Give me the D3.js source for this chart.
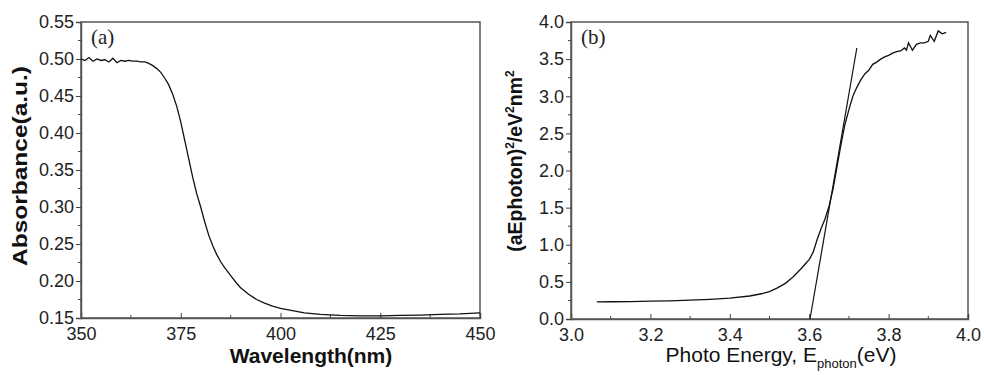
<!DOCTYPE html>
<html>
<head>
<meta charset="utf-8">
<script src="https://cdn.jsdelivr.net/npm/d3@7"></script>
<style>
  body { margin: 0; background: #fff; }
</style>
</head>
<body>
<svg id="chart" width="984" height="375"></svg>
<script>
/* ---------- data: panel (a) absorbance ---------- */
const wavelength = [350,351,352,353,354,355,356,357,358,359,360,361,362,363,364,365,366,367,368,369,
  370,371,372,373,374,375,376,377,378,379,380,381,382,383,384,385,386,387,388,389,390,392,394,396,398,
  400,403,406,410,415,420,425,430,435,440,445,450];
const absorbance = [0.500,0.498,0.502,0.497,0.500,0.498,0.499,0.496,0.501,0.495,0.498,0.497,0.498,0.497,
  0.497,0.496,0.496,0.494,0.491,0.487,0.482,0.474,0.465,0.452,0.436,0.415,0.390,0.365,0.340,0.318,0.300,
  0.280,0.262,0.248,0.236,0.226,0.218,0.211,0.204,0.197,0.191,0.182,0.175,0.170,0.166,0.163,0.160,0.157,
  0.155,0.1535,0.153,0.153,0.1535,0.154,0.155,0.1555,0.157];

/* ---------- data: panel (b) Tauc plot ---------- */
const energy = [3.065,3.10,3.15,3.20,3.25,3.30,3.35,3.40,3.45,3.48,3.50,3.52,3.54,3.56,3.58,3.59,3.60,3.61,
  3.62,3.63,3.64,3.65,3.66,3.67,3.68,3.69,3.70,3.71,3.72,3.73,3.74,3.75,3.76,3.77,3.78,3.79,3.80,3.81,3.82,
  3.83,3.84,3.845,3.85,3.86,3.87,3.88,3.89,3.90,3.905,3.915,3.925,3.935,3.945];
const tauc = [0.23,0.232,0.235,0.24,0.245,0.255,0.265,0.28,0.31,0.34,0.37,0.42,0.48,0.57,0.68,0.74,0.80,0.90,
  1.07,1.22,1.35,1.52,1.75,2.05,2.35,2.62,2.82,3.00,3.12,3.22,3.30,3.35,3.43,3.46,3.50,3.53,3.55,3.58,3.60,
  3.61,3.65,3.62,3.72,3.62,3.70,3.72,3.72,3.74,3.82,3.74,3.88,3.84,3.86];
const fitE = [3.602, 3.72];
const fitV = [0, 3.65];

const ticksA_x = [350,375,400,425,450];
const ticksA_y = [0.15,0.20,0.25,0.30,0.35,0.40,0.45,0.50,0.55];
const ticksB_x = [3.0,3.2,3.4,3.6,3.8,4.0];
const ticksB_y = [0,0.5,1,1.5,2,2.5,3,3.5,4];

const SANS = "'Liberation Sans', Arial, sans-serif";
const SERIF = "'Liberation Serif', 'Times New Roman', serif";
const svg = d3.select("#chart");

function panel(o){
  const g = svg.append("g");
  const x = d3.scaleLinear().domain(o.xDom).range([o.x0, o.x1]);
  const y = d3.scaleLinear().domain(o.yDom).range([o.y1, o.y0]);

  // frame
  g.append("rect").attr("x",o.x0).attr("y",o.y0)
    .attr("width",o.x1-o.x0).attr("height",o.y1-o.y0)
    .attr("fill","none").attr("stroke","#555").attr("stroke-width",1.5);

  // minor ticks
  o.xMinor.forEach(v => g.append("line").attr("x1",x(v)).attr("x2",x(v))
      .attr("y1",o.y1).attr("y2",o.y1-3).attr("stroke","#444"));
  o.yMinor.forEach(v => g.append("line").attr("y1",y(v)).attr("y2",y(v))
      .attr("x1",o.x0).attr("x2",o.x0-3).attr("stroke","#444"));

  const ax = g.append("g").attr("transform",`translate(0,${o.y1})`)
    .call(d3.axisBottom(x).tickValues(o.xTicks).tickSize(-5).tickPadding(9).tickFormat(o.xFmt));
  const ay = g.append("g").attr("transform",`translate(${o.x0},0)`)
    .call(d3.axisLeft(y).tickValues(o.yTicks).tickSize(5).tickPadding(2).tickFormat(o.yFmt));
  [ax, ay].forEach(a => {
    a.select(".domain").attr("stroke","#555").attr("stroke-width",1.5);
    a.selectAll(".tick line").attr("stroke","#444");
    a.selectAll("text").attr("font-size",18).attr("fill","#222").attr("font-family",SANS);
  });

  const line = d3.line().x(d => x(d[0])).y(d => y(d[1]));
  g.append("path").datum(d3.zip(o.xs, o.ys)).attr("d",line)
    .attr("fill","none").attr("stroke","#111").attr("stroke-width",1.3);
  if (o.fx) g.append("path").datum(d3.zip(o.fx, o.fy)).attr("d",line)
    .attr("fill","none").attr("stroke","#111").attr("stroke-width",1.2);

  g.append("text").attr("x",o.x0+10).attr("y",o.y0+22)
    .attr("font-family",SERIF).attr("fill","#222")
    .attr("font-size",21).text(o.tag);
  return {x, y, g};
}

panel({
  x0:81, x1:480, y0:22, y1:318,
  xDom:[350,450], yDom:[0.15,0.55],
  xTicks:ticksA_x, yTicks:ticksA_y,
  xMinor:[362.5,387.5,412.5,437.5],
  yMinor:[0.175,0.225,0.275,0.325,0.375,0.425,0.475,0.525],
  xFmt:d3.format("d"), yFmt:d3.format(".2f"),
  xs:wavelength, ys:absorbance, tag:"(a)"
});
panel({
  x0:571, x1:968, y0:22, y1:319,
  xDom:[3.0,4.0], yDom:[0,4],
  xTicks:ticksB_x, yTicks:ticksB_y,
  xMinor:[3.1,3.3,3.5,3.7,3.9],
  yMinor:[0.25,0.75,1.25,1.75,2.25,2.75,3.25,3.75],
  xFmt:d3.format(".1f"), yFmt:d3.format(".1f"),
  xs:energy, ys:tauc, fx:fitE, fy:fitV, tag:"(b)"
});

/* axis titles */
const title = () => svg.append("text").attr("font-family",SANS).attr("fill","#111")
  .attr("text-anchor","middle").attr("font-size",21);

title().attr("x",311).attr("y",363).attr("font-weight","bold").text("Wavelength(nm)");
title().attr("transform","translate(27,166) rotate(-90)").attr("font-weight","bold")
  .attr("font-size",20).attr("textLength",200).attr("lengthAdjust","spacingAndGlyphs")
  .text("Absorbance(a.u.)");

const xb = title().attr("x",781).attr("y",362);
xb.append("tspan").text("Photo Energy, E");
xb.append("tspan").attr("font-size",13).attr("dy",6).text("photon");
xb.append("tspan").attr("dy",-6).text("(eV)");

const yb = title().attr("transform","translate(522,161) rotate(-90)").attr("font-weight","bold")
  .attr("font-size",19.5);
yb.append("tspan").text("(aEphoton)");
yb.append("tspan").attr("font-size",12).attr("dy",-8).text("2");
yb.append("tspan").attr("dy",8).text("/eV");
yb.append("tspan").attr("font-size",12).attr("dy",-8).text("2");
yb.append("tspan").attr("dy",8).text("nm");
yb.append("tspan").attr("font-size",12).attr("dy",-8).text("2");
</script>
</body>
</html>
